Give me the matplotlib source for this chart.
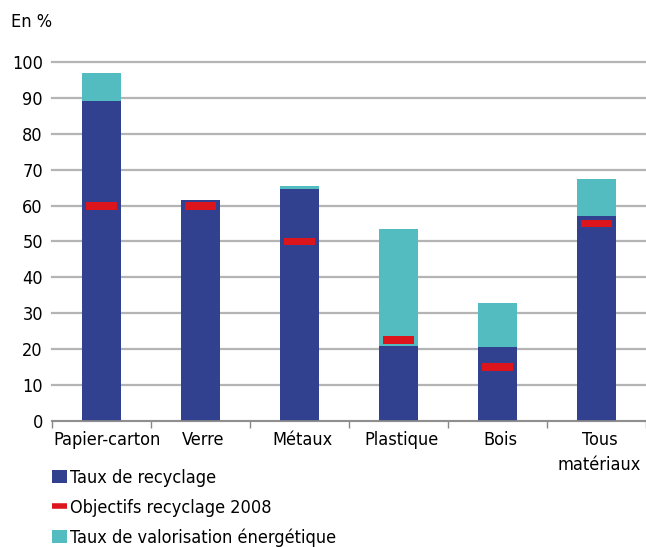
import numpy as np
import matplotlib
matplotlib.use("Agg")
import matplotlib.pyplot as plt
import matplotlib.transforms as mtransforms
from matplotlib.patches import Patch
from matplotlib.lines import Line2D

# --- donnees ---
categories = ["Papier-carton", "Verre", "Métaux", "Plastique", "Bois", "Tous\nmatériaux"]
taux_recyclage = [89, 61.5, 64.5, 21, 20.5, 57]
taux_valorisation = [8, 0, 1, 32.5, 12.5, 10.5]   # partie au-dessus du recyclage
objectifs_2008 = [60, 60, 50, 22.5, 15, 55]
y_ticks = [0, 10, 20, 30, 40, 50, 60, 70, 80, 90, 100]

bleu = "#31418f"
turquoise = "#53bcc1"
rouge = "#dc141c"
gris = "#b4b4b4"

plt.rcParams["font.family"] = ["DejaVu Sans"]
plt.rcParams["font.stretch"] = "condensed"
plt.rcParams["font.size"] = 13

fig = plt.figure(figsize=(6.46, 5.47), dpi=100)
ax = fig.add_axes([52 / 646, 1 - 421 / 547, 594 / 646, 359 / 547])

x = np.arange(len(categories))

# barres empilees
ax.bar(x, taux_recyclage, width=0.4, color=bleu, zorder=3)
ax.bar(x, taux_valorisation, width=0.4, bottom=taux_recyclage, color=turquoise, zorder=3)

# objectifs : petit trait rouge epais
epaisseur = 2.2
ax.bar(x, epaisseur, width=0.32, bottom=np.array(objectifs_2008) - epaisseur / 2,
       color=rouge, zorder=4)

ax.set_xlim(-0.5, len(categories) - 0.5)
ax.set_ylim(0, 100)
ax.set_yticks(y_ticks)
ax.yaxis.grid(True, color=gris, linewidth=1.6, zorder=0)
for gl in ax.get_ygridlines():
    gl.set_clip_on(False)
ax.tick_params(axis="y", length=0, pad=6.5, labelsize=13)

# ticks x aux frontieres des categories
ax.set_xticks(np.arange(len(categories) + 1) - 0.5)
ax.set_xticklabels([])
ax.set_xticks(x, minor=True)
ax.set_xticklabels(categories, minor=True, fontsize=13, linespacing=1.5)
ax.tick_params(axis="x", which="major", length=5, color="#888888", width=1)
ax.tick_params(axis="x", which="minor", length=0, pad=7)

# leger decalage a droite des libelles (comme l'original)
for i, lab in enumerate(ax.get_xticklabels(minor=True)):
    dx = 6 if i == 0 else 3
    lab.set_transform(lab.get_transform() +
                      mtransforms.ScaledTranslation(dx / 100, 0, fig.dpi_scale_trans))

for s in ["top", "right", "left"]:
    ax.spines[s].set_visible(False)
ax.spines["bottom"].set_color("#888888")
ax.spines["bottom"].set_linewidth(1.2)
ax.spines["bottom"].set_zorder(5)

fig.text(11 / 646, 1 - 22 / 547, "En %", fontsize=13, va="center", ha="left")

handles = [
    Patch(facecolor=bleu, edgecolor="none"),
    Line2D([0], [0], color=rouge, linewidth=4, solid_capstyle="butt"),
    Patch(facecolor=turquoise, edgecolor="none"),
]
labels = ["Taux de recyclage", "Objectifs recyclage 2008", "Taux de valorisation énergétique"]
fig.legend(handles, labels, loc="upper left", bbox_to_anchor=(52 / 646, 1 - 469 / 547),
           frameon=False, fontsize=13, handlelength=0.85, handleheight=0.72,
           handletextpad=0.15, labelspacing=0.65, borderpad=0, borderaxespad=0)

fig.savefig("out.png", dpi=100)
